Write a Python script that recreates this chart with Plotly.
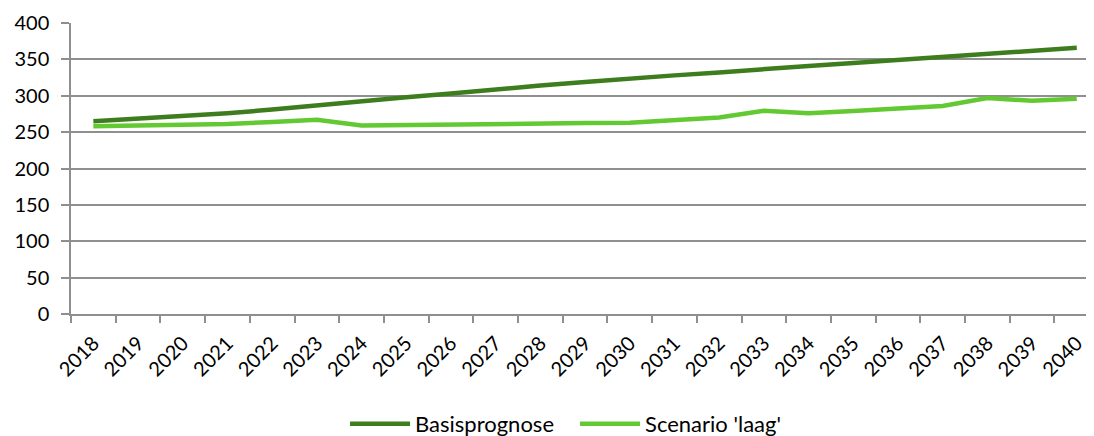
import plotly.graph_objects as go

years = [str(y) for y in range(2018, 2041)]
basisprognose = [265, 268.5, 272, 276, 281, 287, 292, 298, 303, 309, 314, 319, 324,
                 328, 332, 337, 341, 345, 349, 354, 358, 362, 366]
scenario_laag = [258, 259, 260, 261, 264, 267, 259, 260, 261, 261.5, 262, 262.5, 263,
                 266.5, 270, 279.5, 276, 279, 283, 286, 297, 293, 296]
y_ticks = list(range(0, 401, 50))

GRID = "#8f8f8f"
FONT = "Lato, Carlito, Calibri, sans-serif"

fig = go.Figure()
fig.add_trace(go.Scatter(x=years, y=basisprognose, name="Basisprognose", mode="lines",
                         line=dict(color="#3D7D1E", width=4.5)))
fig.add_trace(go.Scatter(x=years, y=scenario_laag, name="Scenario 'laag'", mode="lines",
                         line=dict(color="#63C932", width=4.5)))

fig.update_layout(
    width=1078, height=428,
    margin=dict(l=63, r=0, t=15, b=122, autoexpand=False),
    paper_bgcolor="white", plot_bgcolor="white",
    font=dict(family=FONT, size=20, color="#000000"),
    showlegend=True,
    legend=dict(orientation="h", x=0.27, xanchor="left", y=-0.378, yanchor="middle",
                font=dict(size=22), itemwidth=60, entrywidth=155, traceorder="normal"),
)
fig.update_xaxes(type="category", tickson="boundaries", range=[-0.5, 22.207],
                 tickangle=-45, showline=True, linecolor=GRID, linewidth=1.5,
                 ticks="outside", ticklen=7, tickcolor=GRID, tickwidth=1.5,
                 showgrid=False, zeroline=False, tickfont=dict(size=20), automargin=False,
                 ticklabelstandoff=8)
fig.update_yaxes(range=[0, 400], tickvals=y_ticks, showline=True, linecolor=GRID,
                 linewidth=1.5, ticks="outside", ticklen=8, tickcolor=GRID, tickwidth=1.5,
                 showgrid=True, gridcolor=GRID, gridwidth=1.5, zeroline=False,
                 tickfont=dict(size=20), automargin=False, ticklabelstandoff=8)

fig.write_html("out.html")
